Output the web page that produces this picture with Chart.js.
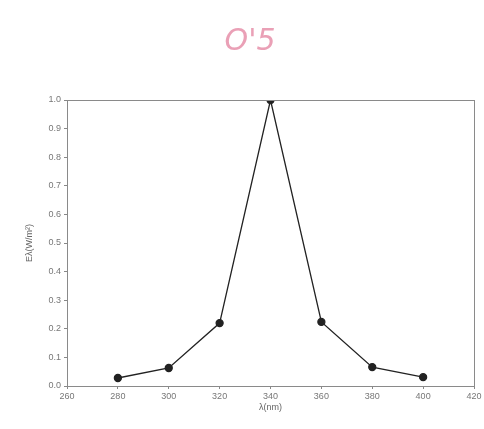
<!DOCTYPE html>
<html>
<head>
<meta charset="utf-8">
<script src="https://cdn.jsdelivr.net/npm/chart.js@4/dist/chart.umd.min.js"></script>
<style>
  html, body { margin: 0; padding: 0; background: #fff; }
  #wrap { width: 484px; height: 429px; }
</style>
</head>
<body>
<div id="wrap"><canvas id="grafica"></canvas></div>
<script>
const longitudes = [280, 300, 320, 340, 360, 380, 400];
const irradiancia = [0.028, 0.063, 0.22, 1.0, 0.224, 0.066, 0.031];
const nota = "O'5";

// marco completo alrededor del area y la nota manuscrita
const marco = {
    id: 'marco',
    afterDraw(chart) {
        const { ctx, chartArea: a } = chart;
        ctx.save();
        ctx.strokeStyle = '#8a8a8a';
        ctx.lineWidth = 1;
        ctx.strokeRect(a.left + 0.5, a.top + 0.5, a.right - a.left, a.bottom - a.top);
        ctx.fillStyle = '#eaa0b6';
        ctx.font = 'italic 200 30px "DejaVu Sans"';
        ctx.textAlign = 'center';
        ctx.fillText(nota, 250, 50);
        ctx.restore();
    }
};

new Chart(document.getElementById('grafica'), {
    type: 'scatter',
    data: {
        datasets: [{
            data: longitudes.map((x, i) => ({ x: x, y: irradiancia[i] })),
            showLine: true,
            borderColor: '#222',
            backgroundColor: '#222',
            borderWidth: 1.3,
            pointRadius: 3.5,
            pointHoverRadius: 3.5
        }]
    },
    options: {
        responsive: true,
        maintainAspectRatio: false,
        animation: false,
        layout: { padding: { top: 100, right: 10, left: 20, bottom: 12 } },
        plugins: { legend: { display: false }, tooltip: { enabled: false } },
        scales: {
            x: {
                type: 'linear',
                min: 260,
                max: 420,
                ticks: { stepSize: 20, color: '#777', font: { size: 9 }, padding: 2 },
                grid: { drawOnChartArea: false, tickLength: 3, color: '#888' },
                border: { color: '#888' },
                title: { display: true, text: 'λ(nm)', color: '#666', font: { size: 9 }, padding: { top: 4 } },
                afterFit: s => { s.height = 31; }
            },
            y: {
                min: 0,
                max: 1,
                ticks: { stepSize: 0.1, color: '#777', font: { size: 9 }, padding: 3, callback: v => v.toFixed(1) },
                grid: { drawOnChartArea: false, tickLength: 3, color: '#888' },
                border: { color: '#888' },
                title: { display: true, text: 'Eλ(W/m²)', color: '#666', font: { size: 9 } },
                afterFit: s => { s.width = 47; }
            }
        }
    },
    plugins: [marco]
});
</script>
</body>
</html>
